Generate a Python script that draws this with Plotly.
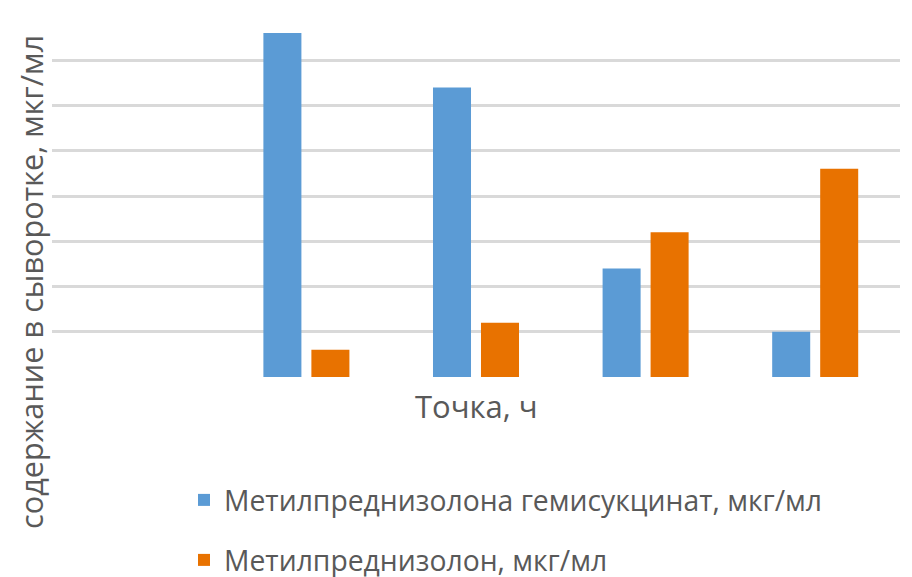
import plotly.graph_objects as go

categories = ["0", "1", "2", "3", "4"]
hemisuccinate = [None, 7.6, 6.4, 2.4, 1.0]
methylpred = [None, 0.6, 1.2, 3.2, 4.6]

name1 = "Метилпреднизолона гемисукцинат, мкг/мл"
name2 = "Метилпреднизолон, мкг/мл"
font = "Open Sans"
txt = "#595959"

fig = go.Figure()
fig.add_trace(go.Bar(x=categories, y=hemisuccinate, name=name1,
                     marker=dict(color="#5B9BD5", line=dict(width=0)), legend="legend"))
fig.add_trace(go.Bar(x=categories, y=methylpred, name=name2,
                     marker=dict(color="#E87200", line=dict(width=0)), legend="legend2"))

# page body has an 8px margin; layout positions below are in window pixels
OFF = 8
W, H = 912 - OFF, 577 - OFF

def fx(x):
    return (x - OFF) / W

def fy(y):
    return 1 - (y - OFF) / H

fig.update_layout(
    width=W, height=H,
    margin=dict(l=0, r=0, t=0, b=0, autoexpand=False),
    paper_bgcolor="white", plot_bgcolor="white",
    barmode="group", bargap=0.434, bargroupgap=0.208,
    font=dict(family=font, color=txt),
    showlegend=True,
    legend=dict(x=fx(184), y=fy(500), xanchor="left", yanchor="middle",
                font=dict(size=28.3, color=txt, family=font), bgcolor="rgba(0,0,0,0)"),
    legend2=dict(x=fx(184), y=fy(560), xanchor="left", yanchor="middle",
                 font=dict(size=28.3, color=txt, family=font), bgcolor="rgba(0,0,0,0)"),
    xaxis=dict(domain=[fx(52), fx(900)], showticklabels=False, showgrid=False,
               zeroline=False, showline=False, ticks=""),
    yaxis=dict(domain=[fy(377), fy(15)], range=[0, 8], dtick=1, showticklabels=False,
               showgrid=True, gridcolor="#D9D9D9", gridwidth=2.5, zeroline=False,
               showline=False, ticks=""),
    annotations=[
        dict(text="Точка, ч", xref="paper", yref="paper", x=fx(477), y=fy(406),
             xanchor="center", yanchor="middle", showarrow=False,
             font=dict(size=31, color=txt, family=font)),
        dict(text="содержание в сыворотке, мкг/мл", xref="paper", yref="paper",
             x=fx(31), y=fy(282), xanchor="center", yanchor="middle", textangle=-90,
             showarrow=False, font=dict(size=30.7, color=txt, family=font)),
    ],
)

fig.write_html("out.html")
